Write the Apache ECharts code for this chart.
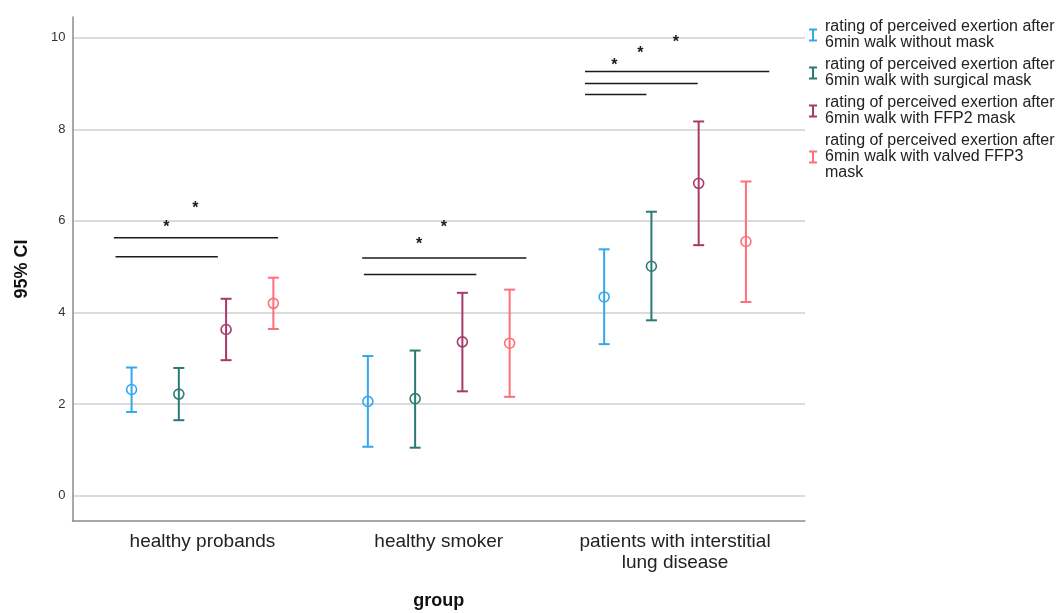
<!DOCTYPE html>
<html>
<head>
<meta charset="utf-8">
<script src="https://cdn.jsdelivr.net/npm/echarts@6/dist/echarts.min.js"></script>
<style>
  html, body { margin: 0; padding: 0; background: #fff; }
  #chart { width: 1061px; height: 613px; }
</style>
</head>
<body>
<div id="chart"></div>
<script>
// Groups on the x axis
const groups = ['healthy probands', 'healthy smoker', 'patients with interstitial\nlung disease'];

// Series names (legend text)
const seriesNames = [
  'rating of perceived exertion after\n6min walk without mask',
  'rating of perceived exertion after\n6min walk with surgical mask',
  'rating of perceived exertion after\n6min walk with FFP2 mask',
  'rating of perceived exertion after\n6min walk with valved FFP3\nmask'
];

// Mean and 95% CI per group: [lower, mean, upper]
const withoutMask = [[1.83, 2.32, 2.80], [1.07, 2.06, 3.05], [3.31, 4.34, 5.38]];
const surgicalMask = [[1.65, 2.22, 2.79], [1.05, 2.12, 3.17], [3.83, 5.01, 6.20]];
const ffp2Mask = [[2.96, 3.63, 4.30], [2.28, 3.36, 4.43], [5.47, 6.82, 8.17]];
const ffp3Mask = [[3.64, 4.20, 4.76], [2.16, 3.33, 4.50], [4.23, 5.55, 6.86]];

// Y axis tick labels
const yTicks = [0, 2, 4, 6, 8, 10];

// Significance bars: [x start, x end, y] in axis units
const sigBars = [
  [-0.375, 0.32, 5.63], [-0.368, 0.065, 5.22],
  [0.676, 1.371, 5.19], [0.683, 1.159, 4.83],
  [1.619, 2.399, 9.26], [1.619, 2.096, 9.00], [1.619, 1.879, 8.76]
];
// Significance stars: [x, y] in axis units
const sigStars = [
  [-0.153, 5.95], [-0.03, 6.36],
  [0.917, 5.56], [1.022, 5.94],
  [1.743, 9.48], [1.853, 9.73], [2.004, 9.98]
];

const seriesData = [withoutMask, surgicalMask, ffp2Mask, ffp3Mask];
const colors = ['#35a7ef', '#2b7a76', '#a8396b', '#ff6f7a'];
const offsets = [-0.3, -0.1, 0.1, 0.3];
// Error-bar shaped legend icon
const iIcon = 'path://M0,0h8v2h-3v9h3v2h-8v-2h3v-9h-3z';
const font = 'Liberation Sans, Arial, sans-serif';

function errorBarSeries(k) {
  return {
    name: seriesNames[k],
    type: 'custom',
    itemStyle: { color: colors[k] },
    encode: { x: 0, y: [1, 2, 3] },
    data: seriesData[k].map((d, i) => [i, d[0], d[1], d[2]]),
    renderItem: function (params, api) {
      const x = api.value(0) + offsets[k];
      const lo = api.coord([x, api.value(1)]);
      const mid = api.coord([x, api.value(2)]);
      const hi = api.coord([x, api.value(3)]);
      const cap = 5.5;
      const stroke = { stroke: colors[k], lineWidth: 2, fill: null };
      return {
        type: 'group',
        children: [
          { type: 'line', shape: { x1: lo[0], y1: lo[1], x2: hi[0], y2: hi[1] }, style: stroke },
          { type: 'line', shape: { x1: hi[0] - cap, y1: hi[1], x2: hi[0] + cap, y2: hi[1] }, style: stroke },
          { type: 'line', shape: { x1: lo[0] - cap, y1: lo[1], x2: lo[0] + cap, y2: lo[1] }, style: stroke },
          { type: 'circle', shape: { cx: mid[0], cy: mid[1], r: 5 }, style: { stroke: colors[k], lineWidth: 1.6, fill: 'rgba(255,255,255,0)' } }
        ]
      };
    }
  };
}

const chart = echarts.init(document.getElementById('chart'), null, { renderer: 'canvas' });

chart.setOption({
  animation: false,
  backgroundColor: '#fff',
  textStyle: { fontFamily: font },
  grid: { left: 72.5, right: 256, top: 17, bottom: 92, containLabel: false, outerBoundsMode: 'none' },
  legend: {
    orient: 'vertical',
    left: 809,
    top: 19,
    padding: 0,
    itemGap: 6,
    itemWidth: 8,
    itemHeight: 13,
    selectedMode: false,
    data: seriesNames.map((n) => ({ name: n, icon: iIcon })),
    textStyle: { fontSize: 16, color: '#222', lineHeight: 16, padding: [0, 0, 0, 3] }
  },
  xAxis: {
    type: 'value',
    min: -0.55,
    max: 2.55,
    name: 'group',
    nameLocation: 'middle',
    nameGap: 71,
    nameTextStyle: { fontSize: 18, fontWeight: 'bold', color: '#111' },
    axisLine: { show: true, onZero: false, lineStyle: { color: '#8c8c8c', width: 1.5 } },
    axisTick: { show: false },
    splitLine: { show: false },
    axisLabel: {
      customValues: [0, 1, 2],
      formatter: (v) => groups[Math.round(v)],
      fontSize: 19,
      lineHeight: 21,
      color: '#222',
      margin: 10
    }
  },
  yAxis: {
    type: 'value',
    min: -0.55,
    max: 10.45,
    name: '95% CI',
    nameLocation: 'middle',
    nameGap: 41,
    nameTextStyle: { fontSize: 18, fontWeight: 'bold', color: '#111' },
    axisLine: { show: true, onZero: false, lineStyle: { color: '#8c8c8c', width: 1.5 } },
    axisTick: { show: false, customValues: yTicks },
    axisLabel: { customValues: yTicks, fontSize: 13, color: '#333', margin: 7 },
    splitLine: { show: true, lineStyle: { color: '#cfcfcf', width: 1.5 } }
  },
  series: [
    errorBarSeries(0),
    errorBarSeries(1),
    errorBarSeries(2),
    errorBarSeries(3),
    {
      name: 'significance',
      type: 'custom',
      silent: true,
      data: sigBars,
      encode: { x: [0, 1], y: 2 },
      renderItem: function (params, api) {
        const a = api.coord([api.value(0), api.value(2)]);
        const b = api.coord([api.value(1), api.value(2)]);
        return { type: 'line', shape: { x1: a[0], y1: a[1], x2: b[0], y2: b[1] }, style: { stroke: '#1a1a1a', lineWidth: 1.5 } };
      }
    },
    {
      name: 'stars',
      type: 'custom',
      silent: true,
      data: sigStars,
      encode: { x: 0, y: 1 },
      renderItem: function (params, api) {
        const p = api.coord([api.value(0), api.value(1)]);
        return { type: 'text', style: { x: p[0], y: p[1] + 4, text: '*', fontSize: 16, fontWeight: 'bold', fill: '#1a1a1a', align: 'center', verticalAlign: 'middle', fontFamily: font } };
      }
    }
  ]
});
</script>
</body>
</html>
